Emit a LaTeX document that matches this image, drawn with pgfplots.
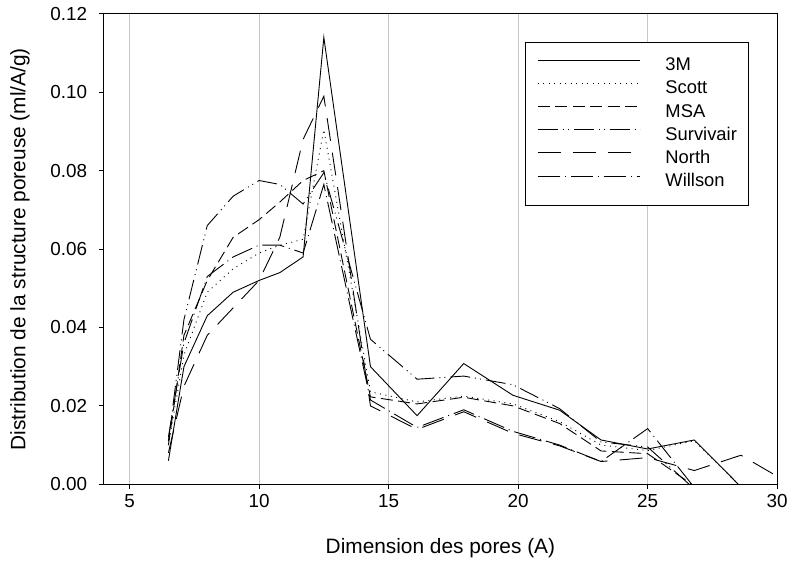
\documentclass[border=0pt]{standalone}
\usepackage{pgfplots}
\pgfplotsset{compat=1.18}
\usepackage{fontspec}
\setmainfont{Liberation Sans}
\begin{document}
\begin{tikzpicture}
\begin{axis}[
  at={(0,0)}, anchor=south west,
  scale only axis, width=676bp, height=472bp,
  xmin=4, xmax=30, ymin=0, ymax=0.12,
  xtick={5,10,15,20,25,30},
  ytick={0,0.02,0.04,0.06,0.08,0.10,0.12},
  yticklabel style={xshift=-8bp, /pgf/number format/.cd, fixed, fixed zerofill, precision=2},
  xticklabel style={yshift=-2bp},
  /pgf/number format/assume math mode=true,
  xmajorgrids, grid style={draw=black!22, line width=0.9bp},
  tick align=outside, xtick pos=bottom, ytick pos=left,
  major tick length=5bp,
  axis line style={line width=0.9bp},
  tick style={line width=0.9bp, black},
  ticklabel style={font=\fontsize{19}{21}\selectfont},
  xlabel={Dimension des pores (A)},
  ylabel={Distribution de la structure poreuse (ml/A/g)},
  label style={font=\fontsize{21}{24}\selectfont},
  xlabel style={at={(axis description cs:0.5,-0.1356)}, anchor=center},
  ylabel style={at={(axis description cs:-0.1243,0.5)}, anchor=center},
  every axis plot/.append style={black, line width=0.9bp, mark=none},
  legend cell align=left,
  legend image code/.code={\draw[#1] (0bp,6bp) -- (102bp,6bp); \path[draw=none] (0bp,6bp) -- (128bp,6bp);},
  legend style={at={(axis description cs:0.6257,0.9407)}, anchor=north west,
    draw=black, line width=0.9bp, inner xsep=12bp, inner ysep=15bp,
    font=\fontsize{18.5}{20}\selectfont, row sep=5.8bp,
    nodes={inner sep=0pt, text height=13.5bp, text depth=4bp}},
]
% 3M
\addplot[solid] coordinates {
(6.5,0.006) (7.1,0.030) (8.0,0.043) (9.0,0.049) (10.0,0.052) (10.8,0.054) (11.7,0.058) (12.5,0.114)
(14.3,0.030) (16.1,0.0175) (17.9,0.0308) (19.8,0.0227) (21.6,0.0189) (23.2,0.0113) (25.0,0.0090) (26.8,0.0113) (28.5,0.0)};
\addlegendentry{3M}
% Scott
\addplot[dash pattern=on 1bp off 4.5bp] coordinates {
(6.5,0.010) (7.1,0.033) (8.0,0.049) (9.0,0.055) (10.0,0.059) (10.8,0.061) (11.7,0.0625) (12.5,0.0905)
(14.3,0.0236) (16.1,0.021) (17.9,0.0225) (19.8,0.0205) (21.6,0.016) (23.2,0.0100) (25.0,0.0086) (26.8,0.0111) (28.5,0.0)};
\addlegendentry{Scott}
% MSA
\addplot[dash pattern=on 12bp off 5.5bp] coordinates {
(6.5,0.010) (7.1,0.038) (8.0,0.052) (9.0,0.063) (10.0,0.0675) (10.8,0.072) (11.7,0.0775) (12.5,0.0800)
(14.3,0.0223) (16.1,0.0205) (17.9,0.0222) (19.8,0.0200) (21.6,0.0155) (23.2,0.0085) (25.0,0.0078) (26.7,0.0)};
\addlegendentry{MSA}
% Survivair
\addplot[dash pattern=on 20bp off 5bp on 1bp off 4bp on 1bp off 5bp] coordinates {
(6.5,0.011) (7.1,0.042) (8.0,0.066) (9.0,0.0735) (10.0,0.0775) (10.8,0.0765) (11.7,0.0715) (12.5,0.0795)
(14.3,0.037) (16.1,0.0268) (17.9,0.0276) (19.8,0.0254) (21.6,0.0193) (23.2,0.0108) (25.0,0.0095) (26.6,0.0)};
\addlegendentry{Survivair}
% North
\addplot[dash pattern=on 23bp off 12bp] coordinates {
(6.5,0.008) (7.1,0.025) (8.0,0.038) (9.0,0.045) (10.0,0.052) (10.8,0.063) (11.7,0.088) (12.5,0.099)
(14.3,0.020) (16.1,0.014) (17.9,0.0185) (19.8,0.013) (21.6,0.0098) (23.2,0.0058) (25.0,0.0068) (26.8,0.0035) (28.6,0.0074) (30.4,0.0005)};
\addlegendentry{North}
% Willson
\addplot[dash pattern=on 22bp off 5bp on 1bp off 5bp] coordinates {
(6.5,0.012) (7.1,0.036) (8.0,0.053) (9.0,0.058) (10.0,0.061) (10.8,0.061) (11.7,0.059) (12.5,0.0765)
(14.3,0.0215) (16.1,0.0145) (17.9,0.019) (19.8,0.0135) (21.6,0.0100) (23.2,0.0058) (25.0,0.0142) (26.7,0.0)};
\addlegendentry{Willson}
\end{axis}
\path (-104bp,-83bp) rectangle (687bp,486bp);
\end{tikzpicture}
\end{document}
